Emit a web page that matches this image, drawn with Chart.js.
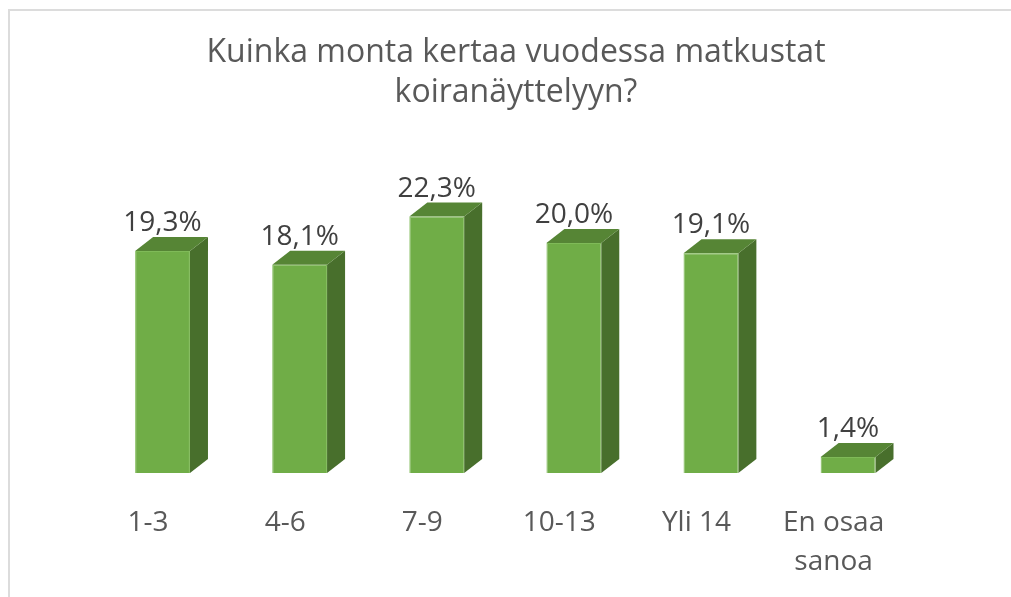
<!DOCTYPE html>
<html>
<head>
<meta charset="utf-8">
<script src="https://cdn.jsdelivr.net/npm/chart.js@4"></script>
<style>
  html, body { margin: 0; padding: 0; background: #fff; overflow: hidden; }
  #frame { position: absolute; left: 8px; top: 9px; width: 1100px; height: 700px;
           border-left: 2px solid #dcdcdc; border-top: 2px solid #dcdcdc; }
  #wrap { position: absolute; left: 0; top: 0; width: 1011px; height: 597px; }
</style>
</head>
<body>
<div id="frame"></div>
<div id="wrap"><canvas id="chart"></canvas></div>
<script>
const categories = ['1-3', '4-6', '7-9', '10-13', 'Yli 14', ['En osaa', 'sanoa']];
const shares = [19.3, 18.1, 22.3, 20.0, 19.1, 1.4];
const titleLines = ['Kuinka monta kertaa vuodessa matkustat', 'koiranäyttelyyn?'];

const FONT = '"Open Sans"';
const DEPTH_X = 18;
const DEPTH_Y = 14;

// sivu- ja kansipinnat palkeille (3D-vaikutelma)
const bars3d = {
    id: 'bars3d',
    beforeDatasetsDraw(chart) {
        const ctx = chart.ctx;
        chart.getDatasetMeta(0).data.forEach(bar => {
            const l = bar.x - bar.width / 2;
            const r = bar.x + bar.width / 2;
            ctx.save();
            ctx.fillStyle = '#486f2c';
            ctx.beginPath();
            ctx.moveTo(r, bar.y);
            ctx.lineTo(r + DEPTH_X, bar.y - DEPTH_Y);
            ctx.lineTo(r + DEPTH_X, bar.base - DEPTH_Y);
            ctx.lineTo(r, bar.base);
            ctx.closePath();
            ctx.fill();
            ctx.fillStyle = '#568535';
            ctx.beginPath();
            ctx.moveTo(l, bar.y);
            ctx.lineTo(l + DEPTH_X, bar.y - DEPTH_Y);
            ctx.lineTo(r + DEPTH_X, bar.y - DEPTH_Y);
            ctx.lineTo(r, bar.y);
            ctx.closePath();
            ctx.fill();
            ctx.restore();
        });
    },
    afterDatasetsDraw(chart) {
        const ctx = chart.ctx;
        ctx.save();
        ctx.font = '28px ' + FONT;
        ctx.fillStyle = '#404040';
        ctx.textAlign = 'center';
        ctx.textBaseline = 'alphabetic';
        chart.getDatasetMeta(0).data.forEach((bar, i) => {
            const txt = shares[i].toFixed(1).replace('.', ',') + '%';
            ctx.fillText(txt, bar.x, bar.y - 20);
        });
        ctx.restore();
    }
};

const ctx = document.getElementById('chart').getContext('2d');
new Chart(ctx, {
    type: 'bar',
    data: {
        labels: categories,
        datasets: [{
            data: shares,
            backgroundColor: '#70ad47',
            borderColor: '#7fba58',
            borderWidth: 1,
            barPercentage: 0.4,
            categoryPercentage: 1.0
        }]
    },
    options: {
        responsive: true,
        maintainAspectRatio: false,
        animation: false,
        layout: { padding: { left: 94, right: 73, top: 0, bottom: 0 } },
        plugins: {
            legend: { display: false },
            tooltip: { enabled: false },
            title: {
                display: true,
                text: titleLines,
                color: '#595959',
                font: { family: FONT, size: 32, weight: 'normal', lineHeight: 40 / 32 },
                padding: { top: 32.6, bottom: 72.9 }
            }
        },
        scales: {
            x: {
                grid: { display: false, drawTicks: false },
                border: { display: false },
                ticks: {
                    color: '#595959',
                    font: { family: FONT, size: 28, lineHeight: 1.393 },
                    padding: 30.5,
                    labelOffset: -14.5,
                    maxRotation: 0,
                    autoSkip: false
                },
                afterFit: s => { s.height = 124; }
            },
            y: {
                position: 'right',
                min: 0,
                max: 25,
                grid: { display: false },
                border: { display: false },
                ticks: { display: false },
                afterFit: s => { s.width = 21.4; }
            }
        }
    },
    plugins: [bars3d]
});
</script>
</body>
</html>
